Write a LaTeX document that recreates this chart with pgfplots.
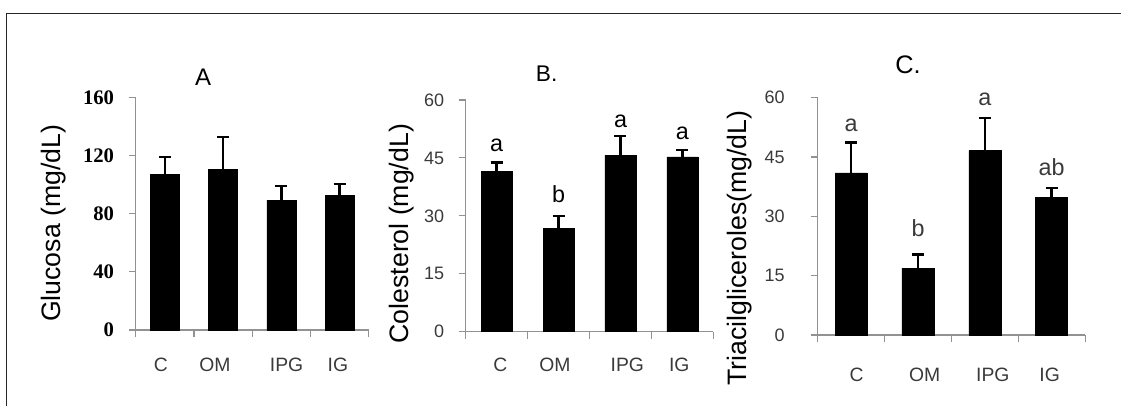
\documentclass[border=0pt]{standalone}
\usepackage{fontspec}
\setmainfont{Liberation Sans}
\newfontfamily\tnr{Liberation Serif}
\usepackage{pgfplots}
\pgfplotsset{compat=1.18}

\definecolor{axgray}{HTML}{929292}
\definecolor{lblgray}{HTML}{3A3A3A}

\pgfplotsset{
  panel/.style={
    scale only axis,
    axis lines=left,
    axis line style={-, draw=axgray, line width=0.8pt},
    tick style={draw=axgray, line width=0.8pt},
    tick align=outside,
    major tick length=5.25pt,
    clip=false,
    enlargelimits=false,
    xmin=-0.5, xmax=3.5, ymin=0,
    xtick={-0.5,0.5,1.5,2.5,3.5},
    xticklabels={},
    extra x tick style={major tick length=0pt},
    extra x tick labels={C,OM,IPG,IG},
    xticklabel style={font=\fontsize{14.5}{14.5}\selectfont, text=lblgray, anchor=center},
    /pgf/number format/assume math mode=true,
    yticklabel style={font=\fontsize{13.5}{13.5}\selectfont, text=lblgray, anchor=east, xshift=-7.5pt},
    ylabel style={font=\fontsize{20}{20}\selectfont, anchor=center},
    ybar, bar width=22pt,
  },
  bars/.style={
    fill=black, draw=black,
    error bars/.cd, y dir=plus, y explicit,
    error bar style={line width=1.8pt, black},
    error mark options={rotate=90, mark size=4.5pt, line width=1.8pt, black},
  },
}

\begin{document}
\begin{tikzpicture}
\useasboundingbox (0,0) rectangle (840.75pt,304.5pt);
% outer frame (left and top edges)
\draw[line width=1.2pt, black!85] (4.9pt,0pt) -- (4.9pt,294.4pt) -- (840.75pt,294.4pt);

% ---- A: glucose ----
\begin{axis}[panel,
  at={(101.8pt,57pt)}, anchor=south west,
  width=174.75pt, height=174.5pt,
  ymax=160, ytick={0,40,80,120,160},
  yticklabel style={font=\tnr\bfseries\fontsize{15.5}{15.5}\selectfont, text=black},
  extra x ticks={-0.07,0.86,2.09,2.97},
  xticklabel style={yshift=-26.25pt},
  ylabel={Glucosa (mg/dL)},
  ylabel style={at={(axis description cs:-0.3515,0.4585)}},
  bar width=21.75pt,
]
\addplot[bars] coordinates {
  (0,106.8) +- (0,12.0)
  (1,110.7) +- (0,22.0)
  (2,89.2)  +- (0,10.0)
  (3,92.6)  +- (0,7.6)
};
\node[font=\fontsize{18}{18}\selectfont] at (axis description cs:0.289,1.087) {A};
\end{axis}

% ---- B: cholesterol ----
\begin{axis}[panel,
  at={(349.3pt,55.7pt)}, anchor=south west,
  width=185.7pt, height=173.8pt,
  ymax=60, ytick={0,15,30,45,60},
  extra x ticks={0.06,0.94,2.11,2.95},
  xticklabel style={yshift=-24.75pt},
  ylabel={Colesterol (mg/dL)},
  ylabel style={at={(axis description cs:-0.257,0.423)}},
  bar width=23.25pt,
]
\addplot[bars] coordinates {
  (0,41.6) +- (0,2.2)
  (1,26.7) +- (0,3.3)
  (2,45.7) +- (0,5.0)
  (3,45.3) +- (0,1.8)
};
\node[font=\fontsize{17}{17}\selectfont] at (axis description cs:0.327,1.112) {B.};
\begin{scope}[every node/.style={font=\fontsize{17.5}{17.5}\selectfont, text=black}]
\node at (axis cs:0,48.2) {a};
\node at (axis cs:1,35.6) {b};
\node at (axis cs:2,54.4) {a};
\node at (axis cs:3,51.4) {a};
\end{scope}
\end{axis}

% ---- C: triglycerides ----
\begin{axis}[panel,
  at={(613.3pt,53.25pt)}, anchor=south west,
  width=200.5pt, height=178pt,
  ymax=60, ytick={0,15,30,45,60},
  yticklabel style={xshift=-8.5pt},
  extra x ticks={0.08,1.10,2.12,2.97},
  xticklabel style={yshift=-30pt},
  ylabel={Triacilgliceroles(mg/dL)},
  ylabel style={at={(axis description cs:-0.294,0.3666)}},
  bar width=24pt,
]
\addplot[bars] coordinates {
  (0,41.0) +- (0,7.7)
  (1,16.9) +- (0,3.5)
  (2,46.6) +- (0,8.3)
  (3,34.7) +- (0,2.4)
};
\node[font=\fontsize{19}{19}\selectfont] at (axis description cs:0.338,1.138) {C.};
\begin{scope}[every node/.style={font=\fontsize{17.5}{17.5}\selectfont, text=lblgray}]
\node at (axis cs:0,52.9) {a};
\node at (axis cs:1,26.9) {b};
\node at (axis cs:2,59.6) {a};
\node at (axis cs:3,42.5) {ab};
\end{scope}
\end{axis}
\end{tikzpicture}
\end{document}
